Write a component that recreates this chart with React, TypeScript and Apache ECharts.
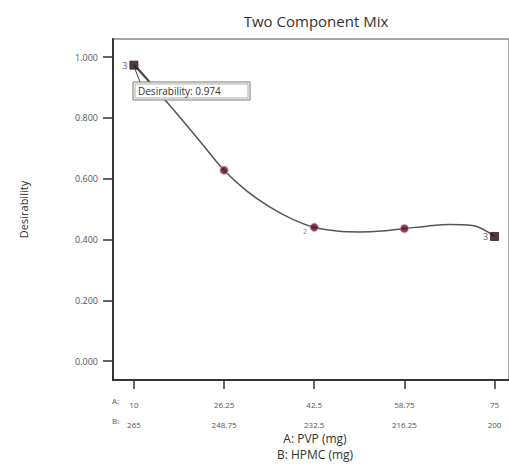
import React, { useEffect, useRef } from "react";
import * as echarts from "echarts";

const titleText = "Two Component Mix";
const yAxisTitle = "Desirability";
const xTitleA = "A: PVP (mg)";
const xTitleB = "B: HPMC (mg)";

const tickA = [10, 26.25, 42.5, 58.75, 75];
const tickB = ["265", "248.75", "232.5", "216.25", "200"];
const yTicks = [0, 0.2, 0.4, 0.6, 0.8, 1.0];

const designX = [10, 26.25, 42.5, 58.75, 75];
const designY = [0.974, 0.628, 0.44, 0.436, 0.41];
const designShape = ["rect", "circle", "circle", "circle", "rect"];
const designCount = ["3", "", "", "", "3"];

const curveX = [10, 14.06, 18.13, 22.19, 26.25, 30.31, 34.38, 38.44, 42.5, 46.56, 50.63, 54.69, 58.75, 62.81, 66.88, 70.94, 75];
const curveY = [0.974, 0.891, 0.806, 0.717, 0.628, 0.56, 0.508, 0.468, 0.44, 0.428, 0.425, 0.428, 0.436, 0.444, 0.449, 0.446, 0.41];

const FONT = "'Open Sans', 'Noto Sans', sans-serif";

export default function App() {
  const ref = useRef<HTMLDivElement>(null);
  useEffect(() => {
    if (!ref.current) return;
    const chart = echarts.init(ref.current, null, { renderer: "svg" });
    const xMin = 6.23;
    const xMax = 77.6;
    chart.setOption({
      animation: false,
      backgroundColor: "#ffffff",
      title: {
        text: titleText,
        left: 311,
        textAlign: "center",
        top: 8,
        textStyle: { fontFamily: FONT, fontSize: 15, fontWeight: "normal", color: "#333" },
      },
      grid: {
        left: 113,
        top: 39,
        right: -2,
        bottom: 87,
        show: true,
        borderColor: "#8a8a8a",
        borderWidth: 1.5,
      },
      xAxis: {
        type: "value",
        min: xMin,
        max: xMax,
        splitLine: { show: false },
        axisLine: { show: true, onZero: false, lineStyle: { color: "#333", width: 2 } },
        axisTick: {
          show: true,
          length: 9,
          customValues: tickA,
          lineStyle: { color: "#333", width: 1.5 },
        },
        axisLabel: {
          customValues: tickA,
          margin: 14,
          fontFamily: FONT,
          fontSize: 8,
          color: "#555",
          lineHeight: 20,
          formatter: (v: number) => {
            const i = tickA.findIndex((t) => Math.abs(t - v) < 1e-6);
            return i >= 0 ? `${tickA[i]}\n${tickB[i]}` : "";
          },
        },
      },
      yAxis: {
        type: "value",
        min: -0.0625,
        max: 1.06,
        splitLine: { show: false },
        axisLine: { show: true, onZero: false, lineStyle: { color: "#333", width: 2 } },
        axisTick: {
          show: true,
          length: 10,
          customValues: yTicks,
          lineStyle: { color: "#333", width: 1.5 },
        },
        axisLabel: {
          customValues: yTicks,
          margin: 15,
          fontFamily: FONT,
          fontSize: 9,
          color: "#555",
          formatter: (v: number) => v.toFixed(3),
        },
        name: yAxisTitle,
        nameLocation: "middle",
        nameGap: 84,
        nameRotate: 90,
        nameTextStyle: { fontFamily: FONT, fontSize: 11, color: "#333" },
      },
      series: [
        {
          type: "line",
          data: curveX.map((x, i) => [x, curveY[i]]),
          smooth: 0.4,
          showSymbol: false,
          lineStyle: { color: "#555", width: 1.5 },
          z: 2,
        },
        {
          type: "scatter",
          data: designX.map((x, i) => ({
            value: [x, designY[i]],
            symbol: designShape[i],
            symbolSize: designShape[i] === "rect" ? 8 : 8,
            itemStyle: {
              color: designShape[i] === "rect" ? "#1e0c12" : "#4c0d20",
              borderColor: designShape[i] === "rect" ? "#3a1a26" : "rgba(230,120,150,0.55)",
              borderWidth: designShape[i] === "rect" ? 1 : 1.5,
            },
            label: {
              show: designCount[i] !== "",
              formatter: designCount[i],
              position: "left",
              distance: 2,
              fontFamily: FONT,
              fontSize: 9,
              color: "#333",
            },
          })),
          z: 5,
        },
      ],
      graphic: [
        {
          type: "line",
          shape: { x1: 137, y1: 67, x2: 150, y2: 82 },
          style: { stroke: "#444", lineWidth: 1.2 },
          z: 20,
        },
        {
          type: "line",
          shape: { x1: 135, y1: 69, x2: 140, y2: 82 },
          style: { stroke: "#444", lineWidth: 1 },
          z: 20,
        },
        {
          type: "rect",
          shape: { x: 133, y: 82, width: 117, height: 18 },
          style: { fill: "#fff", stroke: "#777", lineWidth: 1 },
          z: 21,
        },
        {
          type: "rect",
          shape: { x: 135, y: 84, width: 113, height: 14 },
          style: { fill: "#fff", stroke: "#999", lineWidth: 0.8 },
          z: 21,
        },
        {
          type: "text",
          x: 138,
          y: 91,
          style: {
            text: "Desirability: 0.974",
            fontFamily: FONT,
            fontSize: 10,
            fill: "#333",
            verticalAlign: "middle",
          },
          z: 22,
        },
        {
          type: "text",
          x: 303,
          y: 231,
          style: { text: "2", fontFamily: FONT, fontSize: 7, fill: "#888", verticalAlign: "middle" },
          z: 10,
        },
        {
          type: "text",
          x: 112,
          y: 400,
          style: { text: "A:", fontFamily: FONT, fontSize: 8, fill: "#555", verticalAlign: "middle" },
        },
        {
          type: "text",
          x: 112,
          y: 420,
          style: { text: "B:", fontFamily: FONT, fontSize: 8, fill: "#555", verticalAlign: "middle" },
        },
        {
          type: "text",
          x: 315,
          y: 438,
          style: { text: xTitleA, fontFamily: FONT, fontSize: 12, lineHeight: 14, fill: "#333", align: "center", verticalAlign: "middle" },
        },
        {
          type: "text",
          x: 315,
          y: 454,
          style: { text: xTitleB, fontFamily: FONT, fontSize: 12, lineHeight: 14, fill: "#333", align: "center", verticalAlign: "middle" },
        },
      ],
    });
    return () => chart.dispose();
  }, []);
  return (
    <div
      ref={ref}
      style={{ position: "fixed", left: 0, top: 0, width: 509, height: 467 }}
    />
  );
}
